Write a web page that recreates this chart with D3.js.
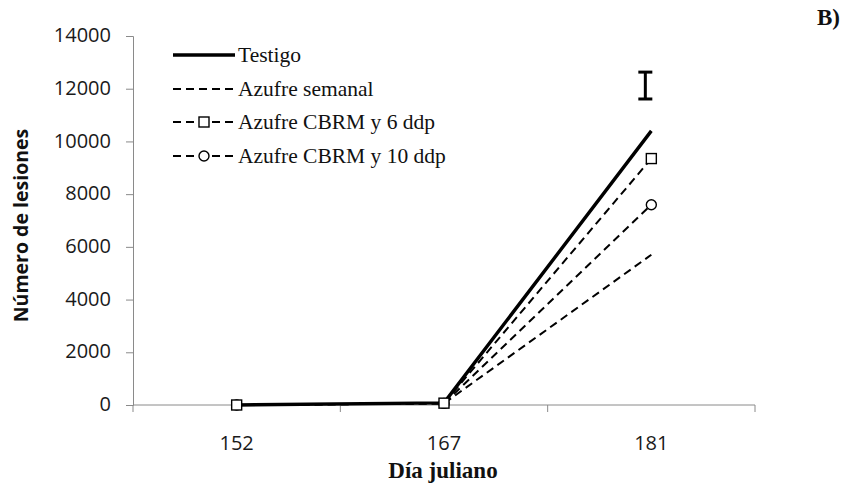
<!DOCTYPE html>
<html>
<head>
<meta charset="utf-8">
<script src="https://cdn.jsdelivr.net/npm/d3@7"></script>
<style>
  body { margin: 0; background: #fff; }
  svg { display: block; }
</style>
</head>
<body>
<svg id="chart" width="858" height="497"></svg>
<script>
// Julian days sampled
const days = ["152", "167", "181"];
// Lesion counts per treatment
const testigo = [0, 80, 10400];
const azufreSemanal = [0, 60, 5700];
const cbrm6 = [0, 70, 9350];
const cbrm10 = [0, 60, 7600];
// Error bar (mean ± half-width) drawn above the last date
const errorBar = { day: "181", center: 12120, half: 510 };
const yTicks = [0, 2000, 4000, 6000, 8000, 10000, 12000, 14000];

const series = [
  { name: "Testigo", values: testigo, dash: null, width: 3.4, marker: null },
  { name: "Azufre semanal", values: azufreSemanal, dash: "8,5", width: 2, marker: null },
  { name: "Azufre CBRM y 6 ddp", values: cbrm6, dash: "8,5", width: 2, marker: "square" },
  { name: "Azufre CBRM y 10 ddp", values: cbrm10, dash: "8,5", width: 2, marker: "circle" }
];

const svg = d3.select("#chart");
const plotL = 133, plotR = 755, plotT = 36, plotB = 405;

const x = d3.scaleBand().domain(days).range([plotL, plotR]);
const y = d3.scaleLinear().domain([0, 14000]).range([plotB, plotT]);
const cx = d => x(d) + x.bandwidth() / 2;

const axisColor = "#8a8a8a";
const sansFont = "'Open Sans', 'Liberation Sans', sans-serif";
const serifFont = "'Liberation Serif', serif";

// Y axis
const yAxis = svg.append("g").attr("transform", `translate(${plotL},0)`)
  .call(d3.axisLeft(y).tickValues(yTicks).tickSize(7).tickPadding(15).tickFormat(d3.format("d")));
yAxis.select(".domain").attr("stroke", axisColor);
yAxis.selectAll(".tick line").attr("stroke", axisColor);
yAxis.selectAll(".tick text")
  .attr("font-family", sansFont).attr("dy", "0.28em")
  .attr("font-size", 20).attr("fill", "#1a1a1a");

// X axis: ticks at the category boundaries, labels centred in each band
const xAxis = svg.append("g").attr("transform", `translate(0,${plotB})`);
xAxis.append("line").attr("x1", plotL).attr("x2", plotR).attr("stroke", axisColor);
const boundaries = days.map(d => x(d)).concat([plotR]);
xAxis.selectAll("line.tk").data(boundaries).join("line").attr("class", "tk")
  .attr("x1", d => d).attr("x2", d => d).attr("y1", 0).attr("y2", 7).attr("stroke", axisColor);
xAxis.selectAll("text").data(days).join("text")
  .attr("x", d => cx(d)).attr("y", 45)
  .attr("text-anchor", "middle")
  .attr("font-family", sansFont)
  .attr("font-size", 20).attr("fill", "#1a1a1a")
  .text(d => d);

// Axis titles
svg.append("text")
  .attr("transform", `translate(28,${(plotT + plotB) / 2 + 5}) rotate(-90)`)
  .attr("text-anchor", "middle")
  .attr("font-family", sansFont)
  .attr("font-weight", "bold").attr("font-size", 19.5).attr("fill", "#111")
  .text("Número de lesiones");
svg.append("text")
  .attr("x", 443).attr("y", 478)
  .attr("text-anchor", "middle")
  .attr("font-family", serifFont)
  .attr("font-weight", "bold").attr("font-size", 23).attr("fill", "#111")
  .text("Día juliano");

// Panel label
svg.append("text")
  .attr("x", 817).attr("y", 25)
  .attr("font-family", serifFont)
  .attr("font-weight", "bold").attr("font-size", 23).attr("fill", "#111")
  .text("B)");

// Lines
const line = d3.line().x((d, i) => cx(days[i])).y(d => y(d));
const order = [1, 3, 2, 0];
order.forEach(k => {
  const s = series[k];
  svg.append("path")
    .attr("d", line(s.values))
    .attr("fill", "none").attr("stroke", "#000")
    .attr("stroke-width", s.width)
    .attr("stroke-dasharray", s.dash)
    .attr("stroke-linejoin", "round");
});

function drawMarker(g, type, px, py) {
  if (type === "square") {
    g.append("rect").attr("x", px - 5).attr("y", py - 5).attr("width", 10).attr("height", 10)
      .attr("fill", "#fff").attr("stroke", "#000").attr("stroke-width", 1.4);
  } else if (type === "circle") {
    g.append("circle").attr("cx", px).attr("cy", py).attr("r", 5)
      .attr("fill", "#fff").attr("stroke", "#000").attr("stroke-width", 1.4);
  }
}

const markers = svg.append("g");
[3, 2].forEach(k => {
  const s = series[k];
  s.values.forEach((v, i) => drawMarker(markers, s.marker, cx(days[i]), y(v)));
});

// Error bar
const ex = cx(errorBar.day) - 6;
const eb = svg.append("g").attr("stroke", "#000").attr("stroke-width", 3);
eb.append("line").attr("x1", ex).attr("x2", ex)
  .attr("y1", y(errorBar.center + errorBar.half)).attr("y2", y(errorBar.center - errorBar.half));
[errorBar.center + errorBar.half, errorBar.center - errorBar.half].forEach(v => {
  eb.append("line").attr("x1", ex - 7).attr("x2", ex + 7).attr("y1", y(v)).attr("y2", y(v));
});

// Legend
const legendRows = [55, 89, 122, 156];
const lg = svg.append("g");
series.forEach((s, i) => {
  const ly = legendRows[i];
  lg.append("line").attr("x1", 173).attr("x2", 235).attr("y1", ly).attr("y2", ly)
    .attr("stroke", "#000").attr("stroke-width", s.width).attr("stroke-dasharray", s.dash);
  if (s.marker) drawMarker(lg, s.marker, 204, ly);
  lg.append("text").attr("x", 238).attr("y", ly + 7)
    .attr("font-family", serifFont)
    .attr("font-size", 21.5).attr("fill", "#111")
    .text(s.name);
});
</script>
</body>
</html>
